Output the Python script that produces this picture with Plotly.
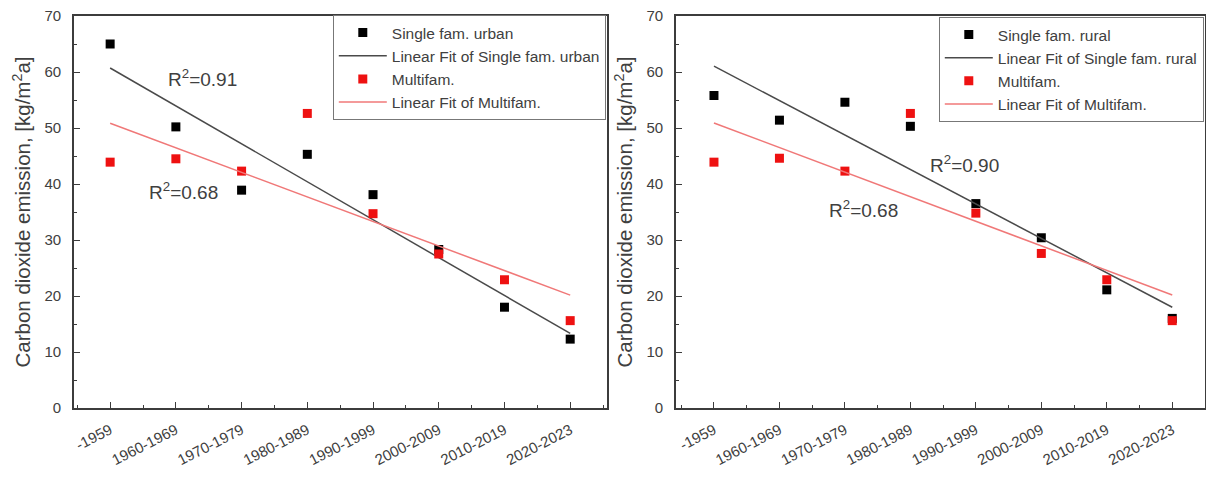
import numpy as np
import plotly.graph_objects as go

periods = ["-1959", "1960-1969", "1970-1979", "1980-1989", "1990-1999",
           "2000-2009", "2010-2019", "2020-2023"]
single_urban = [65.0, 50.2, 38.9, 45.3, 38.1, 28.3, 18.0, 12.3]
multifam_left = [43.9, 44.5, 42.3, 52.6, 34.7, 27.5, 22.9, 15.6]
single_rural = [55.8, 51.4, 54.6, 50.3, 36.5, 30.4, 21.1, 16.0]
multifam_right = [43.9, 44.6, 42.3, 52.6, 34.8, 27.6, 22.9, 15.6]
r2_labels = ["R<sup>2</sup>=0.91", "R<sup>2</sup>=0.68", "R<sup>2</sup>=0.90", "R<sup>2</sup>=0.68"]

xpos = list(range(len(periods)))
FONT = "Liberation Sans, Arial, sans-serif"
GREY = "#404040"
AXIS = "#3c3c3c"
BLACK = "#000000"
RED = "#ee1111"
FIT_BLACK = "#4a4a4a"
FIT_RED = "#f07878"


def fit(y):
    k, b = np.polyfit(xpos, y, 1)
    xs = [xpos[0], xpos[-1]]
    return xs, [k * v + b for v in xs]


fig = go.Figure()

panels = [
    ("x", "y", "legend", single_urban, multifam_left, "Single fam. urban"),
    ("x2", "y2", "legend2", single_rural, multifam_right, "Single fam. rural"),
]
for xa, ya, lg, sing, multi, name in panels:
    fig.add_trace(go.Scatter(x=xpos, y=sing, mode="markers", name=name,
                             marker=dict(symbol="square", size=9, color=BLACK),
                             xaxis=xa, yaxis=ya, legend=lg))
    fx, fy = fit(sing)
    fig.add_trace(go.Scatter(x=fx, y=fy, mode="lines", name="Linear Fit of " + name,
                             line=dict(color=FIT_BLACK, width=1.5),
                             xaxis=xa, yaxis=ya, legend=lg))
    fig.add_trace(go.Scatter(x=xpos, y=multi, mode="markers", name="Multifam.",
                             marker=dict(symbol="square", size=9, color=RED),
                             xaxis=xa, yaxis=ya, legend=lg))
    fx, fy = fit(multi)
    fig.add_trace(go.Scatter(x=fx, y=fy, mode="lines", name="Linear Fit of Multifam.",
                             line=dict(color=FIT_RED, width=1.5),
                             xaxis=xa, yaxis=ya, legend=lg))

W = 1206
H = 479
ydom = [1 - 408 / H, 1 - 16 / H]
xdoms = [[74 / W, 607 / W], [676 / W, 1205 / W]]
xranges = [[-0.55, 7.56], [-0.58, 7.5]]


def xaxis_cfg(dom, anchor, rng):
    return dict(domain=dom, anchor=anchor, range=rng, automargin=False,
                tickmode="array", tickvals=xpos, ticktext=periods,
                tickangle=-27, ticks="inside", ticklen=6, tickwidth=1.3, tickcolor=AXIS,
                showline=True, linecolor=AXIS, linewidth=1.6, mirror=True,
                showgrid=False, zeroline=False,
                tickfont=dict(family=FONT, size=15, color=GREY),
                ticklabelstandoff=6,
                minor=dict(tickvals=[i + 0.5 for i in range(-1, 8)], ticks="inside",
                           ticklen=3, tickwidth=1.2, tickcolor=AXIS, showgrid=False))


def yaxis_cfg(anchor):
    return dict(domain=ydom, anchor=anchor, range=[0, 70], automargin=False,
                tickmode="linear", tick0=0, dtick=10,
                ticks="inside", ticklen=6, tickwidth=1.3, tickcolor=AXIS,
                showline=True, linecolor=AXIS, linewidth=1.6, mirror=True,
                showgrid=False, zeroline=False,
                tickfont=dict(family=FONT, size=15, color=GREY),
                ticklabelstandoff=8, ticklabeloverflow="allow",
                title=dict(text="Carbon dioxide emission, [kg/m<sup>2</sup>a]",
                           font=dict(family=FONT, size=20.5, color=GREY), standoff=8),
                minor=dict(dtick=5, ticks="inside", ticklen=3, tickwidth=1.2,
                           tickcolor=AXIS, showgrid=False))


leg_common = dict(xanchor="right", yanchor="top", bgcolor="white",
                  bordercolor="#777777", borderwidth=1,
                  font=dict(family=FONT, size=15.5, color=GREY),
                  itemwidth=48, tracegroupgap=0)

fig.update_layout(
    width=W, height=H,
    margin=dict(l=0, r=0, t=0, b=0, autoexpand=False),
    paper_bgcolor="white", plot_bgcolor="white",
    font=dict(family=FONT, color=GREY),
    xaxis=xaxis_cfg(xdoms[0], "y", xranges[0]),
    yaxis=yaxis_cfg("x"),
    xaxis2=xaxis_cfg(xdoms[1], "y2", xranges[1]),
    yaxis2=yaxis_cfg("x2"),
    legend=dict(x=xdoms[0][1] - 0.001, y=ydom[1] + 0.002, **leg_common),
    legend2=dict(x=xdoms[1][1] - 0.001, y=ydom[1] - 0.002, **leg_common),
    showlegend=True,
)

ann_pos = [("x", "y", 1.4, 59.0), ("x", "y", 1.12, 38.7),
           ("x2", "y2", 3.83, 43.6), ("x2", "y2", 2.29, 35.5)]
for txt, (xa, ya, ax, ay) in zip(r2_labels, ann_pos):
    fig.add_annotation(x=ax, y=ay, xref=xa, yref=ya, text=txt, showarrow=False,
                       font=dict(family=FONT, size=19, color=GREY))

fig.write_html(
    "out.html",
    config={"displayModeBar": False},
    post_script="document.body.style.margin='0px';"
                "document.documentElement.style.overflow='hidden';"
                "document.body.style.overflow='hidden';",
)
